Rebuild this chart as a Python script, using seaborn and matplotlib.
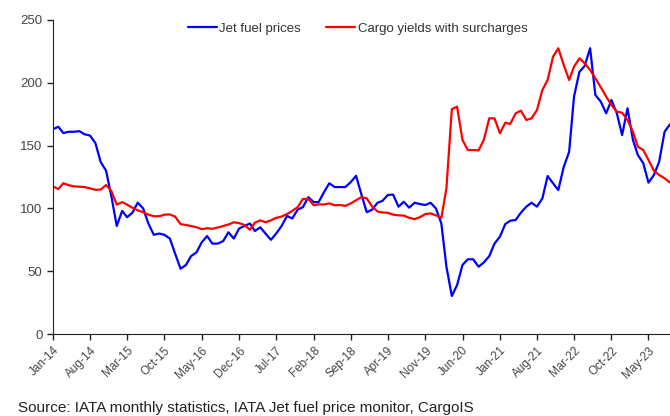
import numpy as np
import pandas as pd
import matplotlib
matplotlib.use("Agg")
import matplotlib.pyplot as plt
import matplotlib.dates as mdates
import seaborn as sns

# Monthly index values, Jan-14 .. Sep-23
months = pd.date_range("2014-01-01", periods=117, freq="MS")

jet_fuel = [
    163, 165, 160, 161, 161, 161.5, 159, 158, 152, 137, 130, 110,   # 2014
    86, 98, 93, 96.6, 104.6, 100, 88, 79, 80, 79, 76, 64,           # 2015
    52, 55, 62, 65, 73, 78, 72, 72, 74, 81, 76, 84,                 # 2016
    86, 88, 82, 85, 80, 75, 80, 86, 94, 92, 99, 101,                # 2017
    109, 105, 105, 113, 120, 117, 117, 117, 121, 126, 111, 97,      # 2018
    99, 104.5, 106, 110.7, 111, 101.4, 105.3, 100.6, 104.5, 103.5, 102.7, 104.5,  # 2019
    100, 88, 53.6, 30.3, 39, 55, 59.5, 59.5, 53.6, 57, 62, 72,      # 2020
    77.5, 87.6, 90.2, 90.8, 96.6, 101.4, 104.5, 101.4, 108, 125.8, 120, 114.6,    # 2021
    133, 145, 189, 208.8, 213.4, 227.5, 190.3, 185, 175.7, 186.3, 175.7, 158.4,   # 2022
    179.7, 154.5, 142.5, 136, 120.5, 126.6, 137.2, 161, 167,        # 2023
]

cargo_yields = [
    117.5, 115.4, 120, 118.5, 117.5, 117.3, 117, 116, 114.8, 115, 118.6, 114,     # 2014
    103, 105, 103, 100.5, 98.5, 97, 95, 93.8, 93.8, 95, 95.2, 93.5,               # 2015
    87.5, 86.8, 86, 85, 83.5, 84.2, 83.8, 84.8, 86, 87.2, 89, 88.3,               # 2016
    86.8, 83, 88.6, 90.5, 89, 90.5, 92.5, 93.5, 95.5, 98, 101, 107.5,             # 2017
    107.5, 102.5, 103.2, 103.2, 104, 102.5, 102.7, 102, 104, 106.5, 109, 108,     # 2018
    101.5, 97.5, 96.8, 96.5, 95, 94.5, 94.3, 92.5, 91.5, 93, 95.5, 96,            # 2019
    94.5, 92.5, 116, 179, 181, 154.5, 146.5, 146.5, 146.2, 154.5, 171.7, 171.7,   # 2020
    159.8, 168.2, 167.2, 175.7, 177.8, 170.4, 171.7, 178.3, 194.3, 202.2, 220.8, 227.5,  # 2021
    214.2, 202.2, 212.8, 219.5, 215.5, 210.2, 203.6, 196.4, 189, 182.3, 177, 176.2,      # 2022
    170.4, 161, 149.1, 146.5, 138.5, 130, 126.6, 124, 120.5,        # 2023
]

series_names = ["Jet fuel prices", "Cargo yields with surcharges"]
series_colors = ["#0000FF", "#FF0000"]

df = pd.DataFrame({
    "month": np.concatenate([months, months]),
    "value": jet_fuel + cargo_yields,
    "series": [series_names[0]] * len(months) + [series_names[1]] * len(months),
})

sns.set_style("ticks")
plt.rcParams["font.family"] = ["Liberation Sans", "DejaVu Sans"]

fig = plt.figure(figsize=(6.7, 4.16), dpi=100)
ax = fig.add_axes([0.079, 0.197, 0.921, 0.755])

sns.lineplot(data=df, x="month", y="value", hue="series", hue_order=series_names,
             palette=series_colors, linewidth=1.6, ax=ax)

ax.set_xlim(months[0], months[-1])
ax.set_ylim(0, 250)
ax.set_yticks(range(0, 251, 50))
ax.set_xticks(months[::7])
ax.xaxis.set_major_formatter(mdates.DateFormatter("%b-%y"))
ax.set_xlabel("")
ax.set_ylabel("")

ax.tick_params(axis="y", labelsize=9.5, colors="#222222", labelcolor="#444444",
               length=4, width=1, direction="out")
ax.tick_params(axis="x", labelsize=8.5, colors="#222222", labelcolor="#444444",
               length=4, width=1, direction="out")
plt.setp(ax.get_xticklabels(), rotation=45, ha="right", rotation_mode="anchor")

for side in ["top", "right"]:
    ax.spines[side].set_visible(False)
ax.spines["left"].set_color("#222222")
ax.spines["bottom"].set_color("#222222")

leg = ax.legend(loc="upper center", bbox_to_anchor=(0.4935, 1.03), ncol=2, frameon=False,
                fontsize=9.5, handlelength=2.2, handletextpad=0.2, columnspacing=1.9)
for txt in leg.get_texts():
    txt.set_color("#333333")

fig.text(0.027, 0.02, "Source: IATA monthly statistics, IATA Jet fuel price monitor, CargoIS",
         fontsize=11, color="#222222", va="center", ha="left")

fig.savefig("out.png", dpi=100)
